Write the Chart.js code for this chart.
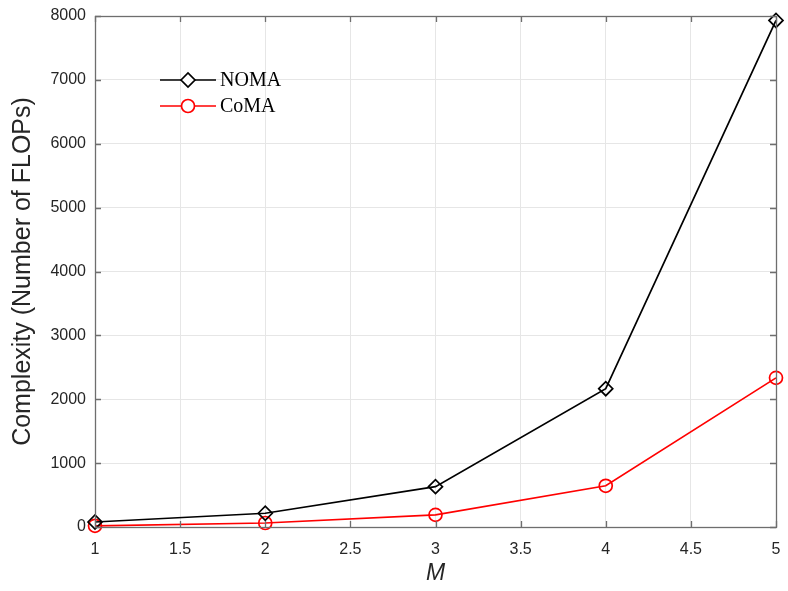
<!DOCTYPE html>
<html>
<head>
<meta charset="utf-8">
<script src="https://cdn.jsdelivr.net/npm/chart.js@4/dist/chart.umd.min.js"></script>
<style>
  body { margin: 0; background: #fff; }
  #wrap { width: 788px; height: 591px; }
</style>
</head>
<body>
<div id="wrap"><canvas id="flopsChart"></canvas></div>
<script>
// values
const mValues = [1, 2, 3, 4, 5];
const nomaFlops = [78, 215, 632, 2165, 7930];
const comaFlops = [18, 63, 190, 645, 2335];
const seriesNames = ['NOMA', 'CoMA'];

const axisColor = '#6e6e6e';
const textColor = '#262626';

// MATLAB-style inward ticks and box around the plot
const boxPlugin = {
  id: 'boxPlugin',
  afterDraw(chart) {
    const ctx = chart.ctx;
    const a = chart.chartArea;
    const xs = chart.scales.x, ys = chart.scales.y;
    ctx.save();
    ctx.strokeStyle = axisColor;
    ctx.lineWidth = 1.3;
    ctx.strokeRect(a.left + 0.5, a.top + 0.5, a.right - a.left, a.bottom - a.top);
    ctx.beginPath();
    xs.ticks.forEach(t => {
      const px = Math.round(xs.getPixelForValue(t.value)) + 0.5;
      ctx.moveTo(px, a.bottom); ctx.lineTo(px, a.bottom - 6);
      ctx.moveTo(px, a.top); ctx.lineTo(px, a.top + 6);
    });
    ys.ticks.forEach(t => {
      const py = Math.round(ys.getPixelForValue(t.value)) + 0.5;
      ctx.moveTo(a.left, py); ctx.lineTo(a.left + 6, py);
      ctx.moveTo(a.right, py); ctx.lineTo(a.right - 6, py);
    });
    ctx.stroke();
    ctx.restore();
  }
};

// legend drawn inside the plot, top left
const insideLegend = {
  id: 'insideLegend',
  afterDatasetsDraw(chart) {
    const ctx = chart.ctx;
    const x0 = 160, x1 = 216, rows = [80, 106];
    ctx.save();
    chart.data.datasets.forEach((ds, i) => {
      const y = rows[i];
      ctx.strokeStyle = ds.borderColor;
      ctx.lineWidth = 1.7;
      ctx.beginPath();
      ctx.moveTo(x0, y); ctx.lineTo(x1, y);
      ctx.stroke();
      ctx.fillStyle = '#ffffff';
      Chart.helpers.drawPoint(ctx, {
        pointStyle: ds.pointStyle, radius: ds.pointRadius, borderWidth: 1.7
      }, (x0 + x1) / 2, y);
      ctx.fillStyle = '#000';
      ctx.font = '20px "Liberation Serif", "Times New Roman", serif';
      ctx.textBaseline = 'middle';
      ctx.fillText(ds.label, x1 + 4, y + 1);
    });
    ctx.restore();
  }
};

new Chart(document.getElementById('flopsChart'), {
  type: 'line',
  data: {
    datasets: [
      {
        label: seriesNames[0],
        data: mValues.map((m, i) => ({ x: m, y: nomaFlops[i] })),
        borderColor: '#000000',
        backgroundColor: 'rgba(0,0,0,0)',
        borderWidth: 1.7,
        pointStyle: 'rectRot',
        pointRadius: 7,
        pointBorderWidth: 1.7,
        tension: 0
      },
      {
        label: seriesNames[1],
        data: mValues.map((m, i) => ({ x: m, y: comaFlops[i] })),
        borderColor: '#ff0000',
        backgroundColor: 'rgba(0,0,0,0)',
        borderWidth: 1.7,
        pointStyle: 'circle',
        pointRadius: 6.5,
        pointBorderWidth: 1.7,
        tension: 0
      }
    ]
  },
  options: {
    responsive: true,
    maintainAspectRatio: false,
    animation: false,
    clip: false,
    layout: { padding: { top: 16, right: 12, left: 0, bottom: 0 } },
    plugins: {
      legend: { display: false },
      tooltip: { enabled: false }
    },
    scales: {
      x: {
        type: 'linear',
        min: 1,
        max: 5,
        ticks: {
          stepSize: 0.5,
          color: textColor,
          font: { family: 'Liberation Sans, Arial, sans-serif', size: 16 },
          padding: 13,
          callback: v => String(v)
        },
        grid: { color: '#e6e6e6', tickLength: 0, drawTicks: false },
        border: { display: false },
        title: {
          display: true,
          text: 'M',
          color: textColor,
          font: { family: 'Liberation Sans, Arial, sans-serif', size: 23, style: 'italic' },
          padding: { top: 9 }
        },
        afterFit(scale) {
          scale.height = 64;
          scale.paddingLeft = 0;
          scale.paddingRight = 0;
        }
      },
      y: {
        min: 0,
        max: 8000,
        ticks: {
          stepSize: 1000,
          color: textColor,
          font: { family: 'Liberation Sans, Arial, sans-serif', size: 16 },
          padding: 9,
          callback: v => String(v)
        },
        grid: { color: '#e6e6e6', tickLength: 0, drawTicks: false },
        border: { display: false },
        title: {
          display: true,
          text: 'Complexity (Number of FLOPs)',
          color: textColor,
          font: { family: 'Liberation Sans, Arial, sans-serif', size: 25 },
          padding: { top: 8, bottom: 4 }
        },
        afterFit(scale) {
          scale.width = 95;
          scale.paddingTop = 0;
          scale.paddingBottom = 0;
        }
      }
    }
  },
  plugins: [boxPlugin, insideLegend]
});
</script>
</body>
</html>
